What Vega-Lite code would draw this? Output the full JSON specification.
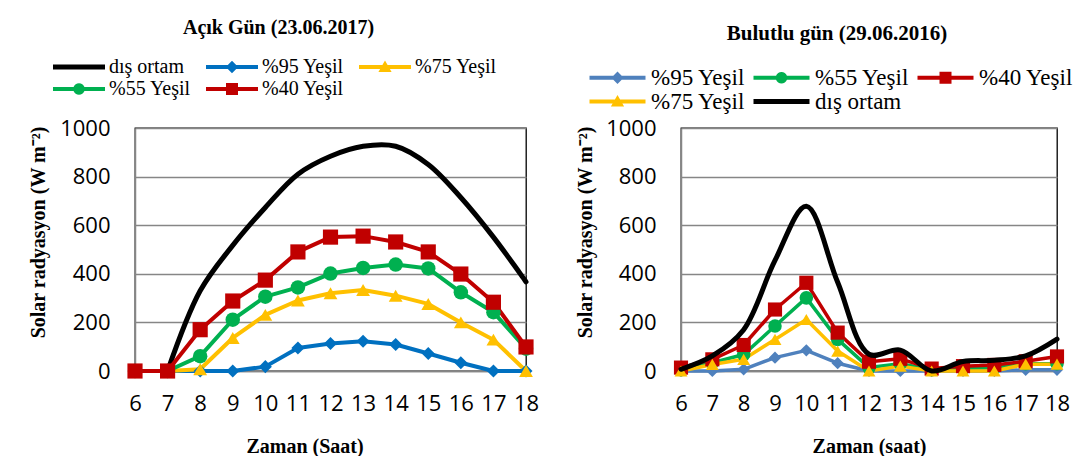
{
  "$schema": "https://vega.github.io/schema/vega-lite/v6.json",
  "autosize": {"type": "pad"},
  "padding": {"left": 28, "top": 17, "right": 0, "bottom": 0},
  "background": "white",
  "bounds": "flush",
  "spacing": 155,
  "resolve": {"scale": {"color": "independent", "x": "independent", "y": "independent", "shape": "independent", "size": "independent"}, "legend": {"color": "independent"}},
  "config": {
    "view": {"stroke": "#000000", "strokeWidth": 1.3},
    "axis": {"labelFont": "Open Sans", "labelFontSize": 22, "labelColor": "#000000", "ticks": false, "domainColor": "#868686", "domainWidth": 1.5, "gridColor": "#868686", "gridWidth": 1.3, "titleFont": "Liberation Serif", "titleFontWeight": "bold", "titleFontSize": 20, "titleColor": "#000000", "labelOverlap": false, "labelFlush": false},
    "title": {"font": "Liberation Serif", "fontWeight": "bold", "color": "#000000", "anchor": "middle"}
  },
  "datasets": {
    "acik": [
      {"saat": 7, "seri": "dış ortam", "deger": 0}, {"saat": 8, "seri": "dış ortam", "deger": 330}, {"saat": 9, "seri": "dış ortam", "deger": 517}, {"saat": 10, "seri": "dış ortam", "deger": 673}, {"saat": 11, "seri": "dış ortam", "deger": 810}, {"saat": 12, "seri": "dış ortam", "deger": 884}, {"saat": 13, "seri": "dış ortam", "deger": 925}, {"saat": 14, "seri": "dış ortam", "deger": 925}, {"saat": 15, "seri": "dış ortam", "deger": 850}, {"saat": 16, "seri": "dış ortam", "deger": 714}, {"saat": 17, "seri": "dış ortam", "deger": 551}, {"saat": 18, "seri": "dış ortam", "deger": 367},
      {"saat": 6, "seri": "%95 Yeşil", "deger": 0}, {"saat": 7, "seri": "%95 Yeşil", "deger": 0}, {"saat": 8, "seri": "%95 Yeşil", "deger": 0}, {"saat": 9, "seri": "%95 Yeşil", "deger": 0}, {"saat": 10, "seri": "%95 Yeşil", "deger": 18}, {"saat": 11, "seri": "%95 Yeşil", "deger": 95}, {"saat": 12, "seri": "%95 Yeşil", "deger": 113}, {"saat": 13, "seri": "%95 Yeşil", "deger": 122}, {"saat": 14, "seri": "%95 Yeşil", "deger": 109}, {"saat": 15, "seri": "%95 Yeşil", "deger": 72}, {"saat": 16, "seri": "%95 Yeşil", "deger": 34}, {"saat": 17, "seri": "%95 Yeşil", "deger": 0}, {"saat": 18, "seri": "%95 Yeşil", "deger": 0},
      {"saat": 6, "seri": "%75 Yeşil", "deger": 0}, {"saat": 7, "seri": "%75 Yeşil", "deger": 0}, {"saat": 8, "seri": "%75 Yeşil", "deger": 7}, {"saat": 9, "seri": "%75 Yeşil", "deger": 136}, {"saat": 10, "seri": "%75 Yeşil", "deger": 231}, {"saat": 11, "seri": "%75 Yeşil", "deger": 290}, {"saat": 12, "seri": "%75 Yeşil", "deger": 320}, {"saat": 13, "seri": "%75 Yeşil", "deger": 333}, {"saat": 14, "seri": "%75 Yeşil", "deger": 310}, {"saat": 15, "seri": "%75 Yeşil", "deger": 276}, {"saat": 16, "seri": "%75 Yeşil", "deger": 200}, {"saat": 17, "seri": "%75 Yeşil", "deger": 129}, {"saat": 18, "seri": "%75 Yeşil", "deger": 0},
      {"saat": 6, "seri": "%55 Yeşil", "deger": 0}, {"saat": 7, "seri": "%55 Yeşil", "deger": 0}, {"saat": 8, "seri": "%55 Yeşil", "deger": 61}, {"saat": 9, "seri": "%55 Yeşil", "deger": 211}, {"saat": 10, "seri": "%55 Yeşil", "deger": 306}, {"saat": 11, "seri": "%55 Yeşil", "deger": 344}, {"saat": 12, "seri": "%55 Yeşil", "deger": 401}, {"saat": 13, "seri": "%55 Yeşil", "deger": 424}, {"saat": 14, "seri": "%55 Yeşil", "deger": 438}, {"saat": 15, "seri": "%55 Yeşil", "deger": 422}, {"saat": 16, "seri": "%55 Yeşil", "deger": 324}, {"saat": 17, "seri": "%55 Yeşil", "deger": 242}, {"saat": 18, "seri": "%55 Yeşil", "deger": 92},
      {"saat": 6, "seri": "%40 Yeşil", "deger": 0}, {"saat": 7, "seri": "%40 Yeşil", "deger": 0}, {"saat": 8, "seri": "%40 Yeşil", "deger": 170}, {"saat": 9, "seri": "%40 Yeşil", "deger": 288}, {"saat": 10, "seri": "%40 Yeşil", "deger": 374}, {"saat": 11, "seri": "%40 Yeşil", "deger": 490}, {"saat": 12, "seri": "%40 Yeşil", "deger": 551}, {"saat": 13, "seri": "%40 Yeşil", "deger": 555}, {"saat": 14, "seri": "%40 Yeşil", "deger": 531}, {"saat": 15, "seri": "%40 Yeşil", "deger": 490}, {"saat": 16, "seri": "%40 Yeşil", "deger": 399}, {"saat": 17, "seri": "%40 Yeşil", "deger": 283}, {"saat": 18, "seri": "%40 Yeşil", "deger": 99}
    ],
    "bulutlu": [
      {"saat": 6, "seri": "%95 Yeşil", "deger": 0}, {"saat": 7, "seri": "%95 Yeşil", "deger": 0}, {"saat": 8, "seri": "%95 Yeşil", "deger": 7}, {"saat": 9, "seri": "%95 Yeşil", "deger": 55}, {"saat": 10, "seri": "%95 Yeşil", "deger": 85}, {"saat": 11, "seri": "%95 Yeşil", "deger": 32}, {"saat": 12, "seri": "%95 Yeşil", "deger": 0}, {"saat": 13, "seri": "%95 Yeşil", "deger": 0}, {"saat": 14, "seri": "%95 Yeşil", "deger": 0}, {"saat": 15, "seri": "%95 Yeşil", "deger": 0}, {"saat": 16, "seri": "%95 Yeşil", "deger": 0}, {"saat": 17, "seri": "%95 Yeşil", "deger": 5}, {"saat": 18, "seri": "%95 Yeşil", "deger": 5},
      {"saat": 6, "seri": "%55 Yeşil", "deger": 5}, {"saat": 7, "seri": "%55 Yeşil", "deger": 34}, {"saat": 8, "seri": "%55 Yeşil", "deger": 68}, {"saat": 9, "seri": "%55 Yeşil", "deger": 185}, {"saat": 10, "seri": "%55 Yeşil", "deger": 301}, {"saat": 11, "seri": "%55 Yeşil", "deger": 130}, {"saat": 12, "seri": "%55 Yeşil", "deger": 14}, {"saat": 13, "seri": "%55 Yeşil", "deger": 30}, {"saat": 14, "seri": "%55 Yeşil", "deger": 5}, {"saat": 15, "seri": "%55 Yeşil", "deger": 10}, {"saat": 16, "seri": "%55 Yeşil", "deger": 15}, {"saat": 17, "seri": "%55 Yeşil", "deger": 30}, {"saat": 18, "seri": "%55 Yeşil", "deger": 30},
      {"saat": 6, "seri": "%40 Yeşil", "deger": 14}, {"saat": 7, "seri": "%40 Yeşil", "deger": 48}, {"saat": 8, "seri": "%40 Yeşil", "deger": 107}, {"saat": 9, "seri": "%40 Yeşil", "deger": 253}, {"saat": 10, "seri": "%40 Yeşil", "deger": 363}, {"saat": 11, "seri": "%40 Yeşil", "deger": 158}, {"saat": 12, "seri": "%40 Yeşil", "deger": 38}, {"saat": 13, "seri": "%40 Yeşil", "deger": 50}, {"saat": 14, "seri": "%40 Yeşil", "deger": 10}, {"saat": 15, "seri": "%40 Yeşil", "deger": 20}, {"saat": 16, "seri": "%40 Yeşil", "deger": 25}, {"saat": 17, "seri": "%40 Yeşil", "deger": 40}, {"saat": 18, "seri": "%40 Yeşil", "deger": 60},
      {"saat": 6, "seri": "%75 Yeşil", "deger": 0}, {"saat": 7, "seri": "%75 Yeşil", "deger": 27}, {"saat": 8, "seri": "%75 Yeşil", "deger": 48}, {"saat": 9, "seri": "%75 Yeşil", "deger": 130}, {"saat": 10, "seri": "%75 Yeşil", "deger": 212}, {"saat": 11, "seri": "%75 Yeşil", "deger": 82}, {"saat": 12, "seri": "%75 Yeşil", "deger": 0}, {"saat": 13, "seri": "%75 Yeşil", "deger": 20}, {"saat": 14, "seri": "%75 Yeşil", "deger": 0}, {"saat": 15, "seri": "%75 Yeşil", "deger": 0}, {"saat": 16, "seri": "%75 Yeşil", "deger": 0}, {"saat": 17, "seri": "%75 Yeşil", "deger": 28}, {"saat": 18, "seri": "%75 Yeşil", "deger": 28},
      {"saat": 6, "seri": "dış ortam", "deger": 7}, {"saat": 7, "seri": "dış ortam", "deger": 62}, {"saat": 8, "seri": "dış ortam", "deger": 170}, {"saat": 9, "seri": "dış ortam", "deger": 455}, {"saat": 10, "seri": "dış ortam", "deger": 678}, {"saat": 11, "seri": "dış ortam", "deger": 365}, {"saat": 12, "seri": "dış ortam", "deger": 69}, {"saat": 13, "seri": "dış ortam", "deger": 86}, {"saat": 14, "seri": "dış ortam", "deger": 0}, {"saat": 15, "seri": "dış ortam", "deger": 39}, {"saat": 16, "seri": "dış ortam", "deger": 44}, {"saat": 17, "seri": "dış ortam", "deger": 62}, {"saat": 18, "seri": "dış ortam", "deger": 131}
    ]
  },
  "hconcat": [
    {
      "width": 391,
      "height": 243,
      "data": {"name": "acik"},
      "title": {"text": "Açık Gün (23.06.2017)", "fontSize": 20, "dx": -52, "offset": 19},
      "encoding": {
        "x": {"field": "saat", "type": "quantitative", "scale": {"domain": [6, 18], "nice": false, "zero": false}, "axis": {"values": [6, 7, 8, 9, 10, 11, 12, 13, 14, 15, 16, 17, 18], "title": "Zaman (Saat)", "grid": false, "labelPadding": 22, "titlePadding": 22, "titleX": 169.5}},
        "y": {"field": "deger", "type": "quantitative", "scale": {"domain": [0, 1000], "nice": false}, "axis": {"values": [0, 200, 400, 600, 800, 1000], "format": "d", "title": "Solar radyasyon (W m⁻²)", "labelPadding": 25, "titlePadding": 11, "titleY": 104}},
        "color": {
          "field": "seri", "type": "nominal",
          "scale": {"domain": ["dış ortam", "%95 Yeşil", "%75 Yeşil", "%55 Yeşil", "%40 Yeşil"], "range": ["#000000", "#0070C0", "#FFC000", "#00B050", "#C00000"]},
          "legend": {
            "orient": "none", "direction": "horizontal", "legendX": -82, "legendY": -71, "title": null, "columns": 3, "columnPadding": 15, "rowPadding": 2, "padding": 0,
            "symbolSize": 400, "labelFontSize": 20, "labelOffset": 36, "labelFont": "Liberation Serif", "labelColor": "#000000", "labelLimit": 0,
            "encode": {"symbols": {"update": {
              "shape": {"signal": "datum.value === 'dış ortam' ? 'M-1,-0.25L4.2,-0.25L4.2,0.25L-1,0.25Z' : datum.value === '%95 Yeşil' ? 'M-1,-0.2L1.18,-0.2L1.6,-0.62L2.02,-0.2L4.2,-0.2L4.2,0.2L2.02,0.2L1.6,0.62L1.18,0.2L-1,0.2Z' : datum.value === '%75 Yeşil' ? 'M-1,-0.2L1.342,-0.2L1.6,-0.65L1.858,-0.2L4.2,-0.2L4.2,0.2L2.088,0.2L2.26,0.5L0.94,0.5L1.112,0.2L-1,0.2Z' : datum.value === '%55 Yeşil' ? 'M-1,-0.2L1.056,-0.2A0.58 0.58 0 0 1 2.144 -0.2L4.2,-0.2L4.2,0.2L2.144,0.2A0.58 0.58 0 0 1 1.056 0.2L-1,0.2Z' : 'M-1,-0.2L1,-0.2L1,-0.6L2.2,-0.6L2.2,-0.2L4.2,-0.2L4.2,0.2L2.2,0.2L2.2,0.6L1,0.6L1,0.2L-1,0.2Z'"},
              "fill": {"signal": "datum.value === 'dış ortam' ? '#000000' : datum.value === '%95 Yeşil' ? '#0070C0' : datum.value === '%75 Yeşil' ? '#FFC000' : datum.value === '%55 Yeşil' ? '#00B050' : '#C00000'"},
              "stroke": {"value": "transparent"},
              "strokeWidth": {"value": 0},
              "opacity": {"value": 1},
              "size": {"value": 400}
            }}}
          }
        }
      },
      "layer": [
        {"transform": [{"filter": "datum.seri === 'dış ortam'"}], "mark": {"type": "line", "interpolate": "catmull-rom", "strokeWidth": 5, "strokeCap": "round", "strokeJoin": "round"}},
        {"transform": [{"filter": "datum.seri !== 'dış ortam'"}], "mark": {"type": "line", "strokeWidth": 4, "strokeCap": "round", "strokeJoin": "round"}},
        {"transform": [{"filter": "datum.seri !== 'dış ortam'"}], "mark": {"type": "point", "filled": true, "opacity": 1},
         "encoding": {
           "shape": {"field": "seri", "type": "nominal", "scale": {"domain": ["%95 Yeşil", "%75 Yeşil", "%55 Yeşil", "%40 Yeşil"], "range": ["diamond", "triangle-up", "circle", "square"]}, "legend": null},
           "size": {"field": "seri", "type": "nominal", "scale": {"domain": ["%95 Yeşil", "%75 Yeşil", "%55 Yeşil", "%40 Yeşil"], "range": [170, 230, 196, 225]}, "legend": null}
         }}
      ]
    },
    {
      "width": 376,
      "height": 243,
      "data": {"name": "bulutlu"},
      "title": {"text": "Bulutlu gün (29.06.2016)", "fontSize": 21, "dx": -32, "offset": 22},
      "encoding": {
        "x": {"field": "saat", "type": "quantitative", "scale": {"domain": [6, 18], "nice": false, "zero": false}, "axis": {"values": [6, 7, 8, 9, 10, 11, 12, 13, 14, 15, 16, 17, 18], "title": "Zaman (saat)", "grid": false, "labelPadding": 22, "titlePadding": 22}},
        "y": {"field": "deger", "type": "quantitative", "scale": {"domain": [0, 1000], "nice": false}, "axis": {"values": [0, 200, 400, 600, 800, 1000], "format": "d", "title": "Solar radyasyon (W m⁻²)", "labelPadding": 25, "titlePadding": 10, "titleY": 104}},
        "color": {
          "field": "seri", "type": "nominal",
          "scale": {"domain": ["%95 Yeşil", "%55 Yeşil", "%40 Yeşil", "%75 Yeşil", "dış ortam"], "range": ["#4F81BD", "#00B050", "#C00000", "#FFC000", "#000000"]},
          "legend": {
            "orient": "none", "direction": "horizontal", "legendX": -93, "legendY": -62, "title": null, "columns": 3, "columnPadding": 6, "rowPadding": -1, "padding": 0,
            "symbolSize": 400, "labelFontSize": 23, "labelOffset": 40, "labelFont": "Liberation Serif", "labelColor": "#000000", "labelLimit": 0,
            "encode": {"symbols": {"update": {
              "shape": {"signal": "datum.value === 'dış ortam' ? 'M-1,-0.25L4.6,-0.25L4.6,0.25L-1,0.25Z' : datum.value === '%95 Yeşil' ? 'M-1,-0.2L1.38,-0.2L1.8,-0.62L2.22,-0.2L4.6,-0.2L4.6,0.2L2.22,0.2L1.8,0.62L1.38,0.2L-1,0.2Z' : datum.value === '%75 Yeşil' ? 'M-1,-0.2L1.542,-0.2L1.8,-0.65L2.058,-0.2L4.6,-0.2L4.6,0.2L2.288,0.2L2.46,0.5L1.14,0.5L1.312,0.2L-1,0.2Z' : datum.value === '%55 Yeşil' ? 'M-1,-0.2L1.256,-0.2A0.58 0.58 0 0 1 2.344 -0.2L4.6,-0.2L4.6,0.2L2.344,0.2A0.58 0.58 0 0 1 1.256 0.2L-1,0.2Z' : 'M-1,-0.2L1.2,-0.2L1.2,-0.6L2.4,-0.6L2.4,-0.2L4.6,-0.2L4.6,0.2L2.4,0.2L2.4,0.6L1.2,0.6L1.2,0.2L-1,0.2Z'"},
              "fill": {"signal": "datum.value === 'dış ortam' ? '#000000' : datum.value === '%95 Yeşil' ? '#4F81BD' : datum.value === '%75 Yeşil' ? '#FFC000' : datum.value === '%55 Yeşil' ? '#00B050' : '#C00000'"},
              "stroke": {"value": "transparent"},
              "strokeWidth": {"value": 0},
              "opacity": {"value": 1},
              "size": {"value": 400}
            }}}
          }
        }
      },
      "layer": [
        {"transform": [{"filter": "datum.seri !== 'dış ortam'"}], "mark": {"type": "line", "strokeWidth": 3.5, "strokeCap": "round", "strokeJoin": "round"}},
        {"transform": [{"filter": "datum.seri !== 'dış ortam'"}], "mark": {"type": "point", "filled": true, "opacity": 1},
         "encoding": {
           "shape": {"field": "seri", "type": "nominal", "scale": {"domain": ["%95 Yeşil", "%75 Yeşil", "%55 Yeşil", "%40 Yeşil"], "range": ["diamond", "triangle-up", "circle", "square"]}, "legend": null},
           "size": {"field": "seri", "type": "nominal", "scale": {"domain": ["%95 Yeşil", "%75 Yeşil", "%55 Yeşil", "%40 Yeşil"], "range": [150, 200, 160, 180]}, "legend": null}
         }},
        {"transform": [{"filter": "datum.seri === 'dış ortam'"}], "mark": {"type": "line", "interpolate": "catmull-rom", "strokeWidth": 5, "strokeCap": "round", "strokeJoin": "round"}}
      ]
    }
  ]
}
